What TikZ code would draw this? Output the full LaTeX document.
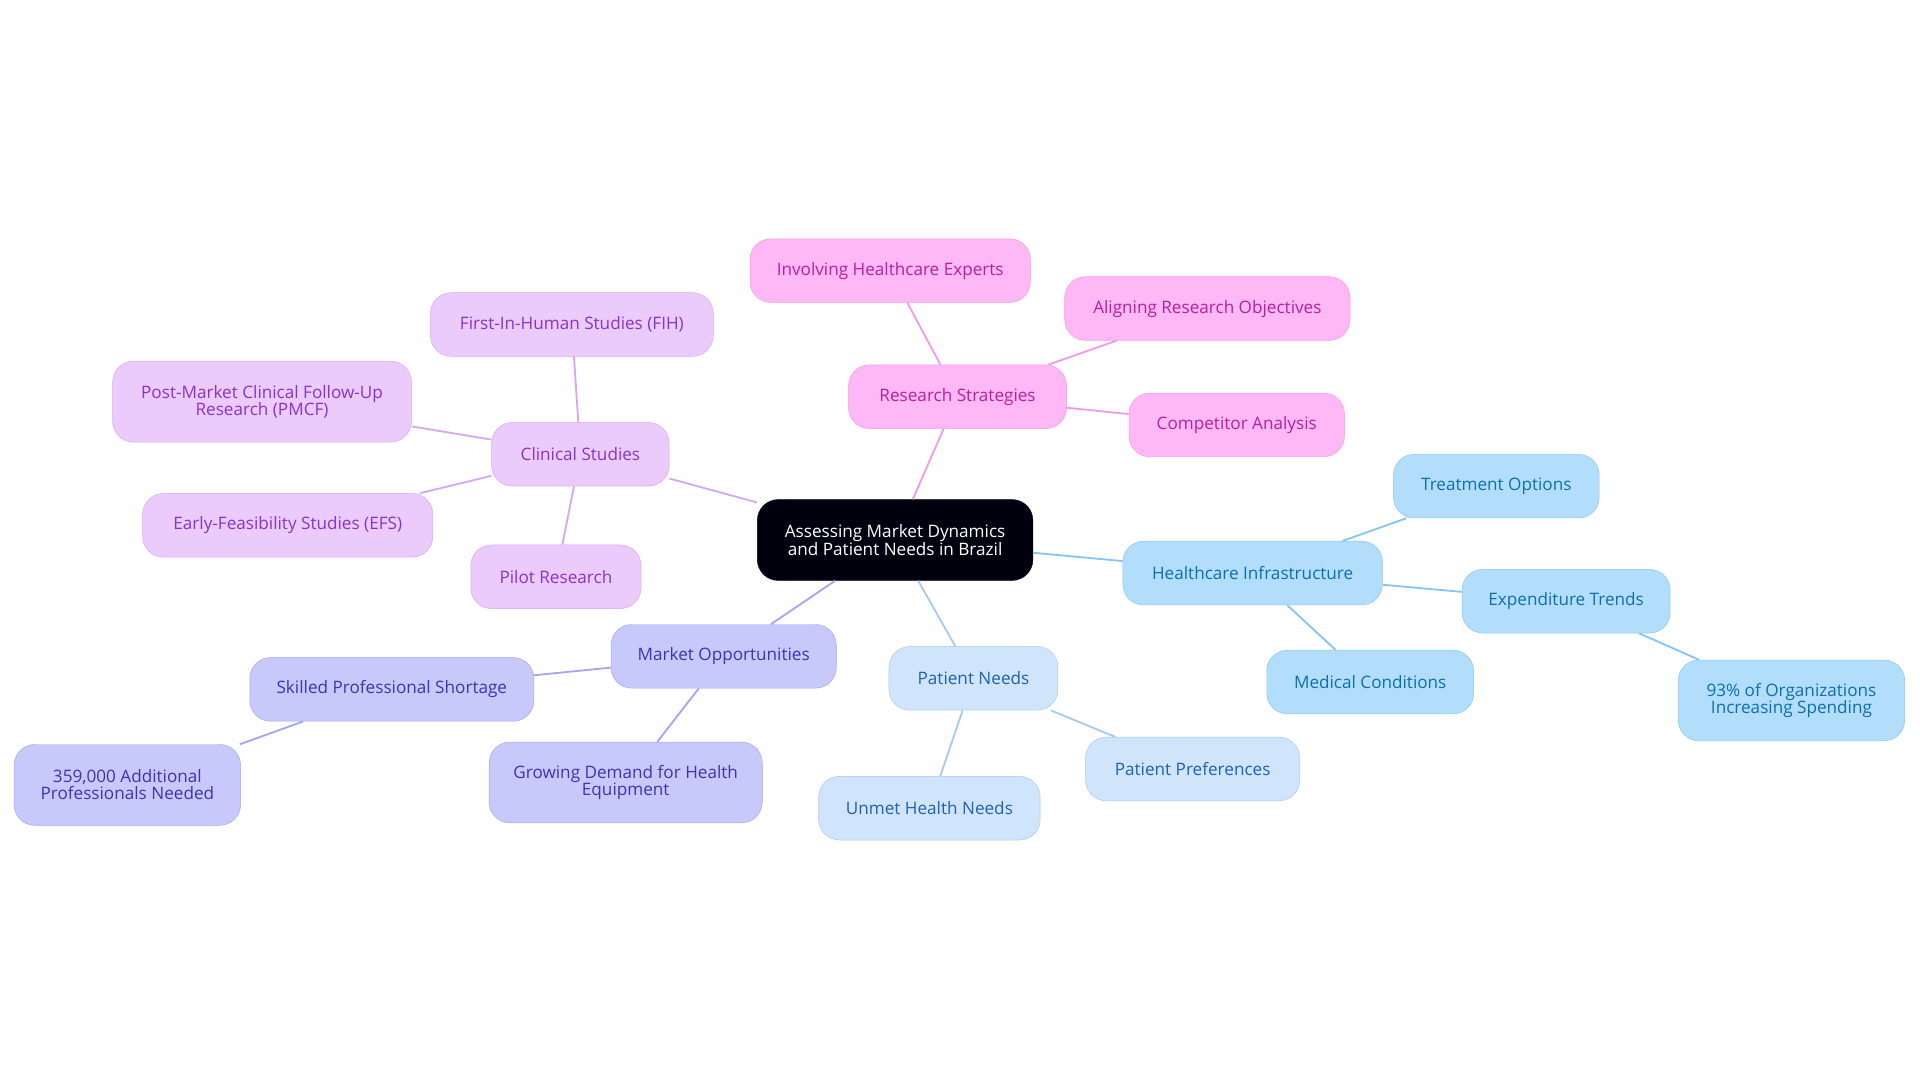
\documentclass[tikz,border=0pt]{standalone}
\usepackage{fontspec}
\setmainfont{Open Sans}
\begin{document}
\begin{tikzpicture}[x=1pt,y=-1pt,
 base/.style={rounded corners=17pt,draw,minimum height=52pt,align=center,font=\fontsize{14}{14}\selectfont,inner sep=0pt},
 rs/.style={base,fill=pink1,draw=pinkd,text=pinkt},
 cs/.style={base,fill=purp1,draw=purpd,text=purpt},
 mo/.style={base,fill=ind1,draw=indd,text=indt},
 pn/.style={base,fill=pb1,draw=pbd,text=pbt},
 hi/.style={base,fill=sb1,draw=sbd,text=sbt},
 ln/.style={line width=1.5pt}]
\definecolor{pink1}{HTML}{FDB8F5}\definecolor{pinkd}{HTML}{F39AEA}\definecolor{pinkt}{HTML}{B5219F}
\definecolor{purp1}{HTML}{EACBFB}\definecolor{purpd}{HTML}{D4A8F2}\definecolor{purpt}{HTML}{8A33C9}
\definecolor{ind1}{HTML}{C8C9FB}\definecolor{indd}{HTML}{A4A6F0}\definecolor{indt}{HTML}{3B35B0}
\definecolor{pb1}{HTML}{D0E4FB}\definecolor{pbd}{HTML}{A8C9F0}\definecolor{pbt}{HTML}{1E63B0}
\definecolor{sb1}{HTML}{B3DEFB}\definecolor{sbd}{HTML}{86C5EF}\definecolor{sbt}{HTML}{0D6FAE}
\useasboundingbox (0,0) rectangle (1568,884);
\node[base,fill=black!90!blue!60!black,draw=black,text=white,minimum width=225pt,minimum height=66pt] (root) at (731,441) {Assessing Market Dynamics\\and Patient Needs in Brazil};
\node[rs,minimum width=178pt] (rs) at (782,324) {Research Strategies};
\node[rs,minimum width=229pt] (rs1) at (727,221) {Involving Healthcare Experts};
\node[rs,minimum width=233pt] (rs2) at (986,252) {Aligning Research Objectives};
\node[rs,minimum width=176pt] (rs3) at (1010,347) {Competitor Analysis};
\node[cs,minimum width=145pt] (cs) at (474,371) {Clinical Studies};
\node[cs,minimum width=231pt] (cs1) at (467,265) {First-In-Human Studies (FIH)};
\node[cs,minimum width=244pt,minimum height=66pt] (cs2) at (214,328) {Post-Market Clinical Follow-Up\\Research (PMCF)};
\node[cs,minimum width=237pt] (cs3) at (235,429) {Early-Feasibility Studies (EFS)};
\node[cs,minimum width=139pt] (cs4) at (454,471) {Pilot Research};
\node[mo,minimum width=184pt] (mo) at (591,536) {Market Opportunities};
\node[mo,minimum width=232pt] (mo1) at (320,563) {Skilled Professional Shortage};
\node[mo,minimum width=185pt,minimum height=66pt] (mo2) at (104,641) {359,000 Additional\\Professionals Needed};
\node[mo,minimum width=223pt,minimum height=66pt] (mo3) at (511,639) {Growing Demand for Health\\Equipment};
\node[pn,minimum width=138pt] (pn) at (795,554) {Patient Needs};
\node[pn,minimum width=175pt] (pn1) at (974,628) {Patient Preferences};
\node[pn,minimum width=181pt] (pn2) at (759,660) {Unmet Health Needs};
\node[hi,minimum width=212pt] (hi) at (1023,468) {Healthcare Infrastructure};
\node[hi,minimum width=168pt] (hi1) at (1222,397) {Treatment Options};
\node[hi,minimum width=170pt] (hi2) at (1279,491) {Expenditure Trends};
\node[hi,minimum width=169pt] (hi3) at (1119,557) {Medical Conditions};
\node[hi,minimum width=185pt,minimum height=66pt] (hi4) at (1463,572) {93\% of Organizations\\Increasing Spending};
\begin{scope}[on background layer/.style={}]
\end{scope}
\begin{pgfinterruptboundingbox}\end{pgfinterruptboundingbox}
\draw[ln,draw=pinkd] (root) -- (rs) (rs) -- (rs1) (rs) -- (rs2) (rs) -- (rs3);
\draw[ln,draw=purpd] (root) -- (cs) (cs) -- (cs1) (cs) -- (cs2) (cs) -- (cs3) (cs) -- (cs4);
\draw[ln,draw=indd] (root) -- (mo) (mo) -- (mo1) (mo1) -- (mo2) (mo) -- (mo3);
\draw[ln,draw=pbd] (root) -- (pn) (pn) -- (pn1) (pn) -- (pn2);
\draw[ln,draw=sbd] (root) -- (hi) (hi) -- (hi1) (hi) -- (hi2) (hi) -- (hi3) (hi2) -- (hi4);
\end{tikzpicture}
\end{document}
